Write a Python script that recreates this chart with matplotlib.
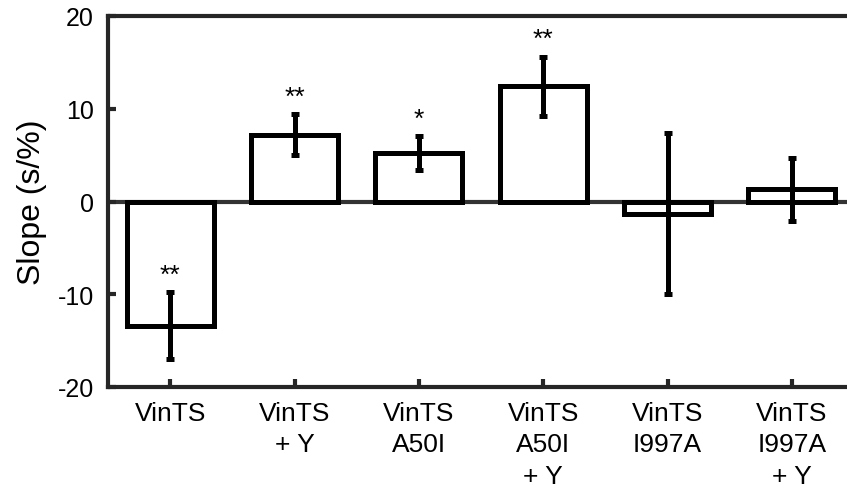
import matplotlib.pyplot as plt

plt.rcParams['font.family'] = ['Liberation Sans', 'DejaVu Sans']
plt.rcParams['axes.unicode_minus'] = False

# data
labels = ['VinTS', 'VinTS\n+ Y', 'VinTS\nA50I', 'VinTS\nA50I\n+ Y', 'VinTS\nI997A', 'VinTS\nI997A\n+ Y']
slopes = [-13.4, 7.2, 5.2, 12.4, -1.3, 1.3]
errors = [3.6, 2.2, 1.85, 3.2, 8.7, 3.4]
stars = ['**', '**', '*', '**', '', '']

x = list(range(1, len(labels) + 1))

fig = plt.figure(figsize=(8.47, 4.89), dpi=100)
ax = fig.add_axes([108 / 847, 101 / 489, 746 / 847, 371 / 489])

ax.axhline(0, color='#333333', lw=3, zorder=1)
ax.bar(x, slopes, width=0.7, color='white', edgecolor='black', linewidth=3.6, zorder=2)
ax.errorbar(x, slopes, yerr=errors, fmt='none', ecolor='black', elinewidth=3.6,
            capsize=3, capthick=3.6, zorder=3)

# significance marks above the upper error bar end
for xi, v, e, s in zip(x, slopes, errors, stars):
    if s:
        ax.text(xi, v + e + 0.6, s, ha='center', va='bottom', fontsize=19)

ax.set_xlim(0.5, 6.5)
ax.set_ylim(-20, 20)
ax.set_yticks([-20, -10, 0, 10, 20])
ax.set_xticks(x)
ax.set_xticklabels(labels, linespacing=1.4, fontsize=19)
ax.set_ylabel('Slope (s/%)', fontsize=23, labelpad=8)

for sp in ax.spines.values():
    sp.set_linewidth(3)
    sp.set_color('#262626')
ax.tick_params(axis='both', direction='in', length=6, width=3, color='#262626',
               labelsize=18, pad=10)
ax.tick_params(axis='x', labelsize=19)

fig.savefig('out.png', dpi=100)
